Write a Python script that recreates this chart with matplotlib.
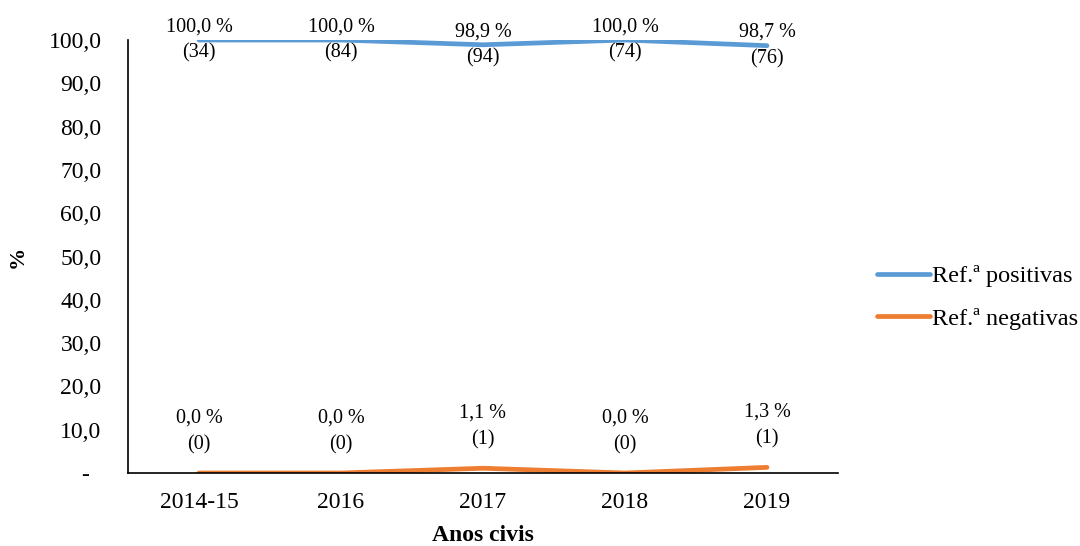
import numpy as np
import matplotlib
matplotlib.use('agg')
import matplotlib.pyplot as plt

plt.rcParams['font.family'] = 'Liberation Serif'

anos = ["2014-15", "2016", "2017", "2018", "2019"]
positivas = [100.0, 100.0, 98.9, 100.0, 98.7]
negativas = [0.0, 0.0, 1.1, 0.0, 1.3]
n_positivas = [34, 84, 94, 74, 76]
n_negativas = [0, 0, 1, 0, 1]
yticks = np.arange(0, 101, 10)


def fmt(v):
    return "{:.1f}".format(v).replace(".", ",")


fig = plt.figure(figsize=(10.8, 5.46), dpi=100)
ax = fig.add_axes([0.1185, 0.1337, 0.6574, 0.793])
x = np.arange(len(anos))
l1, = ax.plot(x, positivas, color='#5B9BD5', lw=3.4, solid_capstyle='round')
l2, = ax.plot(x, negativas, color='#ED7D31', lw=3.4, solid_capstyle='round')

for xi, v, n in zip(x, positivas, n_positivas):
    ax.annotate("{} %\n({})".format(fmt(v), n), (xi, v), xytext=(0, 0),
                textcoords='offset points', ha='center', va='center',
                fontsize=14.5, linespacing=1.5)
for xi, v, n in zip(x, negativas, n_negativas):
    ax.annotate("{} %\n({})".format(fmt(v), n), (xi, v), xytext=(0, 30),
                textcoords='offset points', ha='center', va='center',
                fontsize=14.5, linespacing=1.5)

ax.set_xlim(-0.5, 4.5)
ax.set_ylim(0, 100)
ax.set_xticks(x)
ax.set_xticklabels(anos, fontsize=17)
ax.set_yticks(yticks)
ax.set_yticklabels(["-  " if t == 0 else fmt(t) for t in yticks], fontsize=17)
ax.tick_params(axis='both', length=0)
ax.tick_params(axis='y', pad=19)
ax.tick_params(axis='x', pad=14)
for s in ['top', 'right']:
    ax.spines[s].set_visible(False)
for s in ['left', 'bottom']:
    ax.spines[s].set_linewidth(1.2)
    ax.spines[s].set_color('black')

ax.set_xlabel("Anos civis", fontsize=17, fontweight='bold', labelpad=8)
ax.set_ylabel("%", fontsize=16, fontweight='bold', labelpad=15)

fig.legend([l1, l2], ["Ref.ª positivas", "Ref.ª negativas"],
           loc='center left', bbox_to_anchor=(0.812, 0.455), frameon=False,
           fontsize=17.5, handlelength=2.2, handletextpad=0.05, labelspacing=0.85,
           borderaxespad=0, borderpad=0)

plt.savefig("out.png", dpi=100)
